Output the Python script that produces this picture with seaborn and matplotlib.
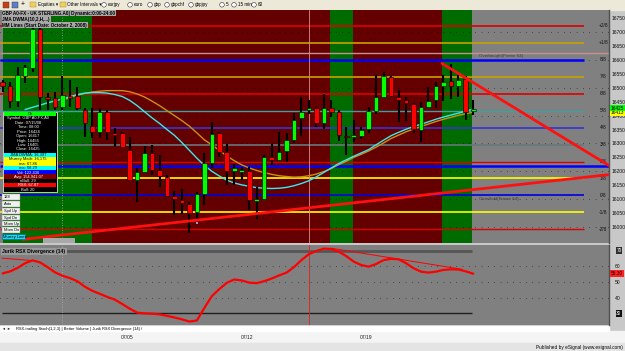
import matplotlib
matplotlib.use("Agg")
import matplotlib.pyplot as plt
from matplotlib.patches import Rectangle, Circle
import numpy as np
import pandas as pd
import seaborn as sns

sns.set_theme(style="white")
plt.rcParams['font.family'] = ['Liberation Sans', 'DejaVu Sans']

# ---------------- data ----------------
bar_index = list(range(64))
bar_open = [16522, 16506, 16454, 16544, 16570, 16710, 16466, 16462, 16432, 16470,
            16470, 16422, 16362, 16342, 16414, 16336, 16336, 16278, 16168, 16198,
            16264, 16204, 16180, 16110, 16096, 16082, 16052, 16120, 16230, 16336,
            16269, 16202, 16198, 16200, 16094, 16100, 16250, 16240, 16274, 16314,
            16390, 16420, 16428, 16372, 16428, 16412, 16328, 16322, 16326, 16352,
            16418, 16466, 16540, 16468, 16456, 16442, 16348, 16432, 16456, 16506,
            16526, 16506, 16532, 16416]
bar_high = [16528, 16522, 16576, 16582, 16714, 16722, 16480, 16486, 16542, 16530,
            16502, 16426, 16426, 16426, 16420, 16354, 16342, 16324, 16210, 16290,
            16294, 16258, 16186, 16128, 16136, 16088, 16126, 16266, 16378, 16342,
            16298, 16226, 16216, 16216, 16144, 16260, 16298, 16342, 16336, 16408,
            16466, 16456, 16432, 16478, 16456, 16420, 16358, 16386, 16360, 16432,
            16548, 16556, 16542, 16492, 16466, 16446, 16448, 16502, 16521, 16546,
            16586, 16546, 16542, 16456]
bar_low = [16486, 16426, 16432, 16516, 16558, 16420, 16420, 16420, 16420, 16430,
           16422, 16322, 16318, 16318, 16312, 16288, 16282, 16164, 16090, 16192,
           16186, 16142, 16108, 16042, 16048, 15978, 16026, 16078, 16210, 16252,
           16150, 16150, 16170, 16060, 16028, 16098, 16222, 16236, 16234, 16300,
           16328, 16406, 16358, 16352, 16396, 16310, 16260, 16304, 16316, 16336,
           16406, 16462, 16466, 16378, 16380, 16338, 16306, 16428, 16426, 16454,
           16460, 16468, 16386, 16402]
bar_close = [16506, 16454, 16546, 16574, 16710, 16466, 16461, 16430, 16474, 16464,
             16426, 16372, 16342, 16414, 16342, 16333, 16288, 16168, 16196, 16264,
             16206, 16184, 16110, 16100, 16086, 16050, 16118, 16228, 16334, 16270,
             16202, 16210, 16206, 16096, 16100, 16250, 16242, 16270, 16314, 16386,
             16414, 16428, 16372, 16428, 16414, 16330, 16322, 16330, 16348, 16416,
             16466, 16542, 16470, 16458, 16444, 16352, 16430, 16454, 16506, 16522,
             16506, 16530, 16414, 16425]

cyan_start = 3
cyan_ma = [16422, 16430, 16438, 16446, 16453, 16460, 16468, 16476, 16481, 16483,
           16483, 16481, 16476, 16469, 16455, 16436, 16414, 16392, 16372, 16350,
           16329, 16303, 16275, 16247, 16221, 16200, 16183, 16168, 16158, 16151,
           16146, 16141, 16139, 16138, 16139, 16142, 16148, 16156, 16166, 16180,
           16196, 16212, 16228, 16241, 16254, 16266, 16278, 16295, 16312, 16328,
           16340, 16351, 16361, 16369, 16378, 16387, 16395, 16402, 16409, 16416,
           16424]
orange_start = 8
orange_ma = [16455, 16465, 16474, 16480, 16485, 16488, 16490, 16490, 16490, 16486,
             16478, 16467, 16452, 16436, 16418, 16400, 16382, 16362, 16338, 16313,
             16295, 16275, 16255, 16238, 16223, 16212, 16203, 16195, 16189, 16184,
             16181, 16179, 16180, 16184, 16190, 16199, 16210, 16224, 16236, 16250,
             16261, 16273, 16287, 16302, 16318, 16330, 16342, 16352, 16361, 16370,
             16379, 16387, 16394, 16401, 16407, 16413]

mm_levels = [16723, 16662, 16601, 16540, 16479, 16418, 16357, 16296, 16235, 16174, 16113, 16052, 15991]
mm_labels = ["+2/8", "+1/8", "8/8", "7/8", "6/8", "5/8", "4/8", "3/8", "2/8", "1/8", "0/8", "-1/8", "-2/8"]
extra_levels = [16624, 16220]

support_x = [2.7, 81.2]
support_y = [15955, 16188]
resist_x = [58.8, 81.2]
resist_y = [16588, 16220]

fractal_x = [5, 26]
fractal_y = [16741, 16014]

band_start = [0, 11.9, 43.8, 46.9, 58.8]
band_end = [11.9, 43.8, 46.9, 58.8, 62.8]
band_kind = ["green", "red", "green", "red", "green"]

price_ticks = list(range(16000, 16751, 50))
date_pos = [16.7, 32.7, 48.6]
date_labels = ["07/05", "07/12", "07/19"]

rsx = [55.5, 56.8, 59.0, 62.0, 63.8, 62.5, 59.5, 56.2, 54.0, 52.5,
       50.5, 47.0, 44.4, 42.5, 40.5, 38.8, 36.0, 33.0, 30.5, 30.0,
       29.8, 29.4, 28.4, 27.4, 26.2, 24.8, 25.5, 33.5, 41.0, 45.5,
       49.5, 51.6, 51.0, 49.6, 49.3, 50.5, 52.2, 54.2, 56.0, 59.5,
       64.0, 67.8, 69.8, 71.3, 71.0, 69.3, 66.5, 63.0, 60.8, 59.8,
       61.5, 64.0, 64.8, 64.5, 62.0, 58.8, 56.6, 56.0, 56.6, 57.7,
       58.1, 58.0, 56.8, 55.3]
div1_x = [-0.1, 3.9]
div1_y = [65.2, 63.7]
div2_x = [43.9, 61.5]
div2_y = [71.6, 58.1]
rsx_ticks = [40, 50, 60]

# ---------------- figure ----------------
W, H = 625, 351
fig = plt.figure(figsize=(6.25, 3.51), dpi=100, facecolor='#c8c8c8')

def fy(py):
    return 1 - py / H

# background chrome (below the panels)
bg = fig.add_axes([0, 0, 1, 1], zorder=-5)
bg.set_xlim(0, W); bg.set_ylim(H, 0); bg.axis('off')
bg.add_patch(Rectangle((0, 0), W, 9.5, color='#ece9d8'))
bg.add_patch(Rectangle((0, 331), W, 12, color='#f4f4f4'))
bg.add_patch(Rectangle((0, 343), W, 8, color='#e4e4e4'))
bg.add_patch(Rectangle((0, 326), 609, 5, color='white'))

XL = (-0.361, 81.17)

# ---------------- main price panel ----------------
ax = fig.add_axes([0, fy(243), 609 / W, (243 - 10) / H])
ax.set_facecolor('#808080')
ax.set_xlim(*XL)
ax.set_ylim(15942, 16780)
band_col = {"green": "#006c00", "red": "#640000"}
for s, e, k in zip(band_start, band_end, band_kind):
    ax.axvspan(s, e, color=band_col[k], zorder=0, lw=0)

for p in range(16000, 16800, 100):
    ax.axhline(p, color='black', lw=0.6, ls=(0, (0.6, 7)), zorder=1)

mm_colors = ['#dd0000', '#c8a000', '#0000ff', '#c8a000', '#dd0000', '#3fa0a0', '#3434d0',
             '#667878', '#dd0000', '#ffff00', '#0000e0', '#ffff00', '#dd0000']
mm_lw = [1.2, 1.2, 1.8, 1.2, 1.2, 1.0, 1.2, 1.2, 1.0, 1.2, 1.2, 1.2, 1.0]
for lv, col, lw in zip(mm_levels, mm_colors, mm_lw):
    ax.hlines(lv, XL[0], 77.8, color=col, lw=lw, zorder=2)
ax.hlines(extra_levels[0], XL[0], XL[1], color='#c89090', lw=1.0, zorder=2)
ax.hlines(extra_levels[1], XL[0], XL[1], color='#0000ff', lw=1.8, zorder=2)

for lv, lab in zip(mm_levels, mm_labels):
    ax.text(80.4, lv, lab, fontsize=3.4, ha='center', va='center', color='#101010', zorder=3)

ax.text(63.8, 16615, "Overbought(Frame 64)", fontsize=3.2, color='#404040', va='center', zorder=3)
ax.text(63.8, 16101, "OverSold(Frame 64)", fontsize=3.2, color='#404040', va='center', zorder=3)

ax.axvline(8, color='#a8a8a8', lw=0.6, ls=(0, (1, 2)), zorder=2)
ax.axvline(41, color='#d89090', lw=0.6, zorder=2)

# moving averages
sns.lineplot(x=list(range(cyan_start, cyan_start + len(cyan_ma))), y=cyan_ma, ax=ax,
             color='#c8901a', lw=0, legend=False)
sns.lineplot(x=list(range(orange_start, orange_start + len(orange_ma))), y=orange_ma, ax=ax,
             color='#c8901a', lw=1.0, legend=False, sort=False, estimator=None, zorder=3)
sns.lineplot(x=list(range(cyan_start, cyan_start + len(cyan_ma))), y=cyan_ma, ax=ax,
             color='#3ce8f0', lw=1.0, legend=False, sort=False, estimator=None, zorder=4)

# candles
o = np.array(bar_open, float); c = np.array(bar_close, float)
h = np.array(bar_high, float); l = np.array(bar_low, float)
x = np.array(bar_index, float)
ax.vlines(x, l, h, color='black', lw=1.5, zorder=5)
bh = np.abs(c - o)
minh = 6.0
mid = (o + c) / 2
bottom = np.where(bh < minh, mid - minh / 2, np.minimum(o, c))
height = np.maximum(bh, minh)
cols = np.where(c >= o, '#00ff00', '#ff0000')
ax.bar(x, height, bottom=bottom, width=0.62, color=cols, edgecolor='black', linewidth=0.4, zorder=6)

ax.scatter(fractal_x, fractal_y, s=3, marker='s', c=['#3050ff', '#90a0c8'], zorder=7, linewidths=0)

# trend lines
sns.lineplot(x=support_x, y=support_y, ax=ax, color='#ff1010', lw=2.0, legend=False, zorder=8)
sns.lineplot(x=resist_x, y=resist_y, ax=ax, color='#ff1010', lw=2.0, legend=False, zorder=8)

ax.yaxis.tick_right()
ax.set_yticks(price_ticks)
ax.set_yticklabels([str(p) for p in price_ticks])
ax.tick_params(axis='y', labelsize=3.6, length=0, pad=2, labelcolor='#101010')
ax.set_xticks([])
ax.set_xlabel(''); ax.set_ylabel('')
for sp in ['top', 'left', 'bottom']:
    ax.spines[sp].set_visible(False)
ax.spines['right'].set_color('#505050'); ax.spines['right'].set_linewidth(1.0)

ytr = ax.get_yaxis_transform()
ax.text(1.003, 16412, "16413", transform=ytr, fontsize=3.4, va='center', ha='left', color='black',
        bbox=dict(boxstyle='square,pad=0.15', fc='#ffff00', ec='none'), zorder=9, clip_on=False)
ax.text(1.003, 16427, str(bar_close[-1]), transform=ytr, fontsize=3.4, va='center', ha='left', color='black',
        bbox=dict(boxstyle='square,pad=0.15', fc='#00ff00', ec='none'), zorder=10, clip_on=False)

# ---------------- indicator panel ----------------
axr = fig.add_axes([0, fy(325), 609 / W, (325 - 245) / H])
axr.set_facecolor('#808080')
axr.set_xlim(*XL)
axr.set_ylim(22.6, 73.6)
for v in rsx_ticks:
    axr.axhline(v, color='black', lw=0.6, ls=(0, (0.6, 7)), zorder=1)
axr.hlines(70, 8, 62.8, color='#555555', lw=2.0, zorder=2)
axr.hlines(30, -0.1, 62.8, color='#202020', lw=1.0, zorder=2)
axr.axvline(8, color='#b0b0b0', lw=0.6, ls=(0, (1, 2)), zorder=2)
axr.axvline(41, color='#e02020', lw=0.6, zorder=2)
sns.lineplot(x=bar_index, y=rsx, ax=axr, color='#ff0000', lw=1.6, legend=False,
             sort=False, estimator=None, zorder=4)
sns.lineplot(x=div1_x, y=div1_y, ax=axr, color='#ff0000', lw=0.7, legend=False, zorder=3)
sns.lineplot(x=div2_x, y=div2_y, ax=axr, color='#ff0000', lw=0.7, legend=False, zorder=3)

axr.yaxis.tick_right()
axr.set_yticks(rsx_ticks)
axr.set_yticklabels([str(v) for v in rsx_ticks])
axr.tick_params(axis='y', labelsize=3.6, length=0, pad=4, labelcolor='#101010')
axr.set_xticks(date_pos)
axr.set_xticklabels(date_labels)
axr.tick_params(axis='x', labelsize=3.6, length=0, pad=7, labelcolor='#202020')
axr.set_xlabel(''); axr.set_ylabel('')
for sp in ['top', 'left', 'bottom']:
    axr.spines[sp].set_visible(False)
axr.spines['right'].set_color('#505050'); axr.spines['right'].set_linewidth(1.0)
ytr2 = axr.get_yaxis_transform()
axr.text(1.012, 70, "70", transform=ytr2, fontsize=3.4, va='center', ha='left', color='white',
         bbox=dict(boxstyle='square,pad=0.15', fc='#303030', ec='none'), clip_on=False)
axr.text(1.012, 30, "30", transform=ytr2, fontsize=3.4, va='center', ha='left', color='white',
         bbox=dict(boxstyle='square,pad=0.15', fc='#101010', ec='none'), clip_on=False)
axr.text(1.003, rsx[-1], "%.2f" % rsx[-1], transform=ytr2, fontsize=3.4, va='center', ha='left',
         color='black', bbox=dict(boxstyle='square,pad=0.15', fc='#ff2020', ec='none'), clip_on=False)
axr.text(0.004, 0.95, "Jurik RSX Divergence (14)", transform=axr.transAxes, fontsize=3.6,
         va='top', ha='left', color='black', fontweight='bold',
         bbox=dict(boxstyle='square,pad=0.2', fc='#9a9a9a', ec='none'))

# ---------------- overlay chrome ----------------
ov = fig.add_axes([0, 0, 1, 1], zorder=10)
ov.set_xlim(0, W); ov.set_ylim(H, 0); ov.axis('off'); ov.patch.set_alpha(0)

# toolbar
ov.add_patch(Rectangle((3, 1.5), 6, 6, fc='#c04020', ec='#603010', lw=0.3))
ov.add_patch(Rectangle((12, 1.5), 6, 6, fc='#6080c0', ec='#303060', lw=0.3))
ov.text(23, 4.8, "+", fontsize=5, ha='center', va='center', color='black')
ov.add_patch(Rectangle((30, 2), 6, 5, fc='#f0d060', ec='#a08020', lw=0.3))
ov.text(38, 4.8, "Equities \u25be", fontsize=3.3, va='center', color='black')
ov.add_patch(Rectangle((60, 2), 6, 5, fc='#f0d060', ec='#a08020', lw=0.3))
ov.text(67, 4.8, "Other Intervals \u25be", fontsize=3.3, va='center', color='black')
tb_items = [(104, "eurjpy"), (130, "euro"), (150, "gbp"), (167, "gbpchf"), (191, "gbpjpy"),
            (222, "5"), (234, "15 min"), (254, "60")]
for tx, tl in tb_items:
    ov.add_patch(Circle((tx, 4.8), 2.3, fc='white', ec='#303030', lw=0.4))
    ov.text(tx + 3.5, 4.8, tl, fontsize=3.3, va='center', color='black')

# title boxes
title_lines = [(13.0, "GBP A0-FX - UK STERLING.A0| Dynamic:0:00-24:00"),
               (19.0, "JMA DWMA(10,2,H,...)"),
               (25.0, "MM Lines (Start Date: October 2, 2008)")]
for ty, tt in title_lines:
    ov.text(2.5, ty, tt, fontsize=3.3, va='center', ha='left', color='black', fontweight='bold',
            bbox=dict(boxstyle='square,pad=0.12', fc='#a8a8a8', ec='none'))

# data window
ov.add_patch(Rectangle((3.3, 111.5), 53.4, 80.5, fc='black', ec='#e0e0e0', lw=0.6))
ov.add_patch(Rectangle((3.8, 111.8), 52.4, 4.0, fc='#00ff00', ec='none'))
ov.text(30, 113.8, "Ok", fontsize=3.0, ha='center', va='center', color='black')
dw_rows = ["Symbol: GBP A0-FX,A0", "Date: 07/15/08", "Time: 08:00", "Price: 16424",
           "Open: 16417", "High: 16456", "Low: 16405", "Close: 16425"]
for i, r in enumerate(dw_rows):
    ov.text(28, 118.3 + i * 4.45, r, fontsize=2.9, ha='center', va='center', color='white')
dw_color_rows = [("JMA DWMA: 16,397", '#00ffff', 'black'),
                 ("Murrey Math: 16,175", '#ffff00', 'black'),
                 ("ma: 67.86", '#ffff00', 'black'),
                 ("ma: 68.29", '#00ffff', 'black'),
                 ("Vol: 122,430", '#0000ff', 'white'),
                 ("Avg: 154,941.07", '#800000', 'white'),
                 ("nBull: 29", '#000000', 'white'),
                 ("RSX: 67.87", '#ff0000', 'white'),
                 ("Bull: 20", '#000000', 'white')]
y0 = 152.7
for i, (txt, fc, tc) in enumerate(dw_color_rows):
    ov.add_patch(Rectangle((3.8, y0 + i * 4.33), 52.4, 4.33, fc=fc, ec='none'))
    ov.text(28, y0 + i * 4.33 + 2.2, txt, fontsize=2.9, ha='center', va='center', color=tc)

# buttons
buttons = [(197, "128"), (204, "Auto"), (211, "Spd Up"), (217.5, "Spd Dn"), (223.5, "Mom Up"), (230, "Mom Dn")]
for by, bt in buttons:
    ov.add_patch(Rectangle((2, by - 2.6), 18, 5.2, fc='#f0f0f0', ec='#909090', lw=0.3))
    ov.text(3.5, by, bt, fontsize=2.9, va='center', ha='left', color='black')
ov.add_patch(Rectangle((1.5, 234), 23.5, 5.2, fc='#20d8f0', ec='#0060a0', lw=0.4))
ov.text(3, 236.6, "Murrey Lines", fontsize=2.9, va='center', ha='left', color='black')
ov.add_patch(Rectangle((43, 238), 32, 5, fc='#a8a8a8', ec='none'))

# tab bar
ov.text(2, 328.6, "\u25c4 \u25ba", fontsize=2.8, va='center', ha='left', color='#303030')
ov.text(16, 328.6, "RSX-trailing Stoch(1,2,3) | Better Volume | Jurik RSX Divergence (14) /",
        fontsize=2.9, va='center', ha='left', color='black')

# footer
ov.text(623, 347.3, "Published by eSignal (www.esignal.com)", fontsize=3.4, va='center', ha='right', color='black')

fig.savefig("out.png", dpi=100, facecolor=fig.get_facecolor())
